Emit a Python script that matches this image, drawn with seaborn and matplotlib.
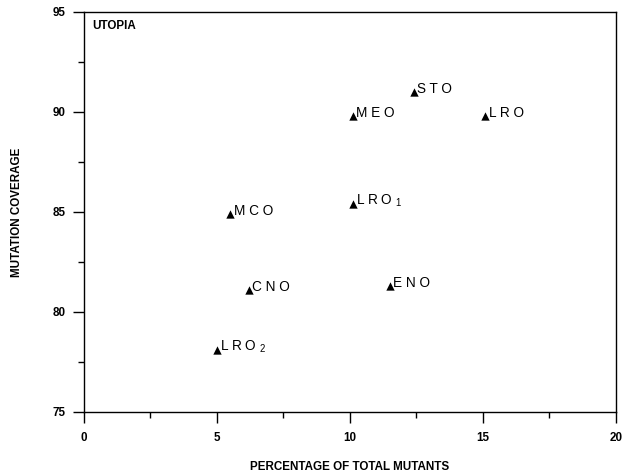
import pandas as pd
import numpy as np
import matplotlib
matplotlib.use("Agg")
import matplotlib.pyplot as plt
import seaborn as sns
from matplotlib.ticker import MultipleLocator

sns.set_theme(style="ticks")
plt.rcParams['font.family'] = ['Liberation Sans', 'DejaVu Sans']
plt.rcParams['mathtext.fontset'] = 'custom'
plt.rcParams['mathtext.rm'] = 'Liberation Sans'
plt.rcParams['text.color'] = 'black'
plt.rcParams['xtick.color'] = 'black'
plt.rcParams['ytick.color'] = 'black'
plt.rcParams['axes.labelcolor'] = 'black'

# operators and where they land
operators = ["S T O", "M E O", "L R O", "L R O $_{1}$", "M C O", "C N O", "E N O", "L R O $_{2}$"]
pct_mutants = [12.4, 10.1, 15.1, 10.1, 5.5, 6.2, 11.5, 5.0]
coverage = [91.0, 89.8, 89.8, 85.4, 84.9, 81.1, 81.3, 78.1]

df = pd.DataFrame({'op': operators, 'pct': pct_mutants, 'cov': coverage})

fig = plt.figure(figsize=(6.22, 4.76), dpi=100)
ax = fig.add_axes([0.135, 0.1345, 0.855, 0.8405])

sns.scatterplot(data=df, x='pct', y='cov', marker='^', color='black', s=36,
                edgecolor='black', linewidth=0, ax=ax, zorder=3)

for _, row in df.iterrows():
    ax.annotate(row['op'], (row['pct'], row['cov']), xytext=(2.5, 2),
                textcoords='offset points', va='center', ha='left', fontsize=9.8)

ax.set_xlim(0, 20)
ax.set_ylim(75, 95)
ax.xaxis.set_major_locator(MultipleLocator(5))
ax.xaxis.set_minor_locator(MultipleLocator(2.5))
ax.yaxis.set_major_locator(MultipleLocator(5))
ax.yaxis.set_minor_locator(MultipleLocator(2.5))
ax.tick_params(which='major', direction='out', length=8, width=1, pad=6.5, labelsize=8.4)
ax.tick_params(which='minor', direction='out', length=4.5, width=1)
ax.tick_params(axis='y', which='major', pad=5)
for lab in ax.get_xticklabels() + ax.get_yticklabels():
    lab.set_fontweight('bold')

for sp in ax.spines.values():
    sp.set_linewidth(1)
    sp.set_color('black')

ax.set_xlabel("PERCENTAGE OF TOTAL MUTANTS", fontsize=8.4, fontweight='bold', va='center')
ax.set_ylabel("MUTATION COVERAGE", fontsize=8.4, fontweight='bold', va='center')
ax.xaxis.set_label_coords(0.5, -0.1375)
ax.yaxis.set_label_coords(-0.126, 0.5)

ax.text(0.015, 0.965, "UTOPIA", transform=ax.transAxes, fontsize=8.4,
        fontweight='bold', va='center', ha='left')

fig.savefig("out.png", dpi=100)
